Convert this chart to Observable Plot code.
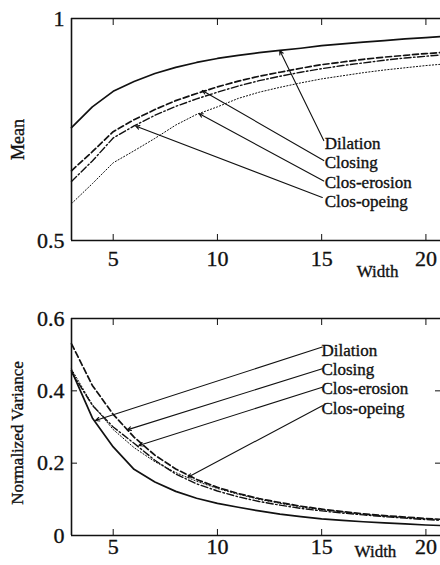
<!DOCTYPE html>
<html>
<head>
<meta charset="utf-8">
<script src="https://cdn.jsdelivr.net/npm/d3@7"></script>
<script src="https://cdn.jsdelivr.net/npm/@observablehq/plot@0.6"></script>
<style>
  body { margin: 0; background: #fff; }
  #chart { width: 440px; height: 565px; overflow: hidden; background: #fff; }
  #chart svg { display: block; }
  #chart text { stroke: #111; stroke-width: 0.35px; }
</style>
</head>
<body>
<div id="chart"></div>
<script>
// ---------- data ----------
const widths = [3, 4, 5, 6, 7, 8, 9, 10, 11, 12, 13, 14, 15, 16, 17, 18, 19, 20, 21];
const seriesNames = ["Dilation", "Closing", "Clos-erosion", "Clos-opeing"];

// Mean (top panel)
const meanDilation   = [0.754, 0.801, 0.836, 0.858, 0.876, 0.890, 0.901, 0.910, 0.917, 0.923, 0.928, 0.933, 0.939, 0.943, 0.947, 0.950, 0.954, 0.957, 0.960];
const meanClosing    = [0.657, 0.700, 0.745, 0.772, 0.795, 0.815, 0.831, 0.846, 0.859, 0.870, 0.879, 0.888, 0.896, 0.902, 0.908, 0.913, 0.917, 0.921, 0.924];
const meanClosErosion= [0.633, 0.679, 0.731, 0.758, 0.782, 0.802, 0.819, 0.834, 0.848, 0.860, 0.870, 0.879, 0.887, 0.894, 0.900, 0.906, 0.911, 0.915, 0.919];
const meanClosOpeing = [0.583, 0.628, 0.675, 0.702, 0.730, 0.760, 0.784, 0.801, 0.820, 0.834, 0.845, 0.855, 0.864, 0.871, 0.878, 0.884, 0.889, 0.894, 0.898];

// Normalized variance (bottom panel)
const varDilation    = [0.456, 0.325, 0.245, 0.183, 0.148, 0.122, 0.103, 0.089, 0.078, 0.068, 0.059, 0.052, 0.046, 0.042, 0.038, 0.035, 0.032, 0.029, 0.027];
const varClosing     = [0.530, 0.415, 0.335, 0.272, 0.222, 0.184, 0.155, 0.133, 0.116, 0.102, 0.091, 0.081, 0.073, 0.066, 0.060, 0.055, 0.051, 0.047, 0.044];
const varClosErosion = [0.452, 0.360, 0.300, 0.255, 0.208, 0.170, 0.143, 0.123, 0.107, 0.094, 0.084, 0.075, 0.068, 0.062, 0.057, 0.052, 0.048, 0.044, 0.041];
const varClosOpeing  = [0.460, 0.362, 0.293, 0.243, 0.204, 0.174, 0.150, 0.130, 0.114, 0.100, 0.089, 0.079, 0.071, 0.065, 0.059, 0.054, 0.050, 0.046, 0.043];

// ticks and tick labels
const xTicks = [5, 10, 15, 20];
const xTickLabels = ["5", "10", "15", "20"];
const meanTicks = [0.5, 1];
const meanTickLabels = ["0.5", "1"];
const varTicks = [0, 0.2, 0.4, 0.6];
const varTickLabels = ["0", "0.2", "0.4", "0.6"];

// annotation labels (data coordinates) and arrows: label end -> curve tip
const meanLabelX = [15.1, 15.1, 15.1, 15.1];
const meanLabelY = [0.718, 0.675, 0.630, 0.587];
const meanArrowX1 = [15.10, 15.10, 15.10, 15.03];
const meanArrowY1 = [0.725, 0.680, 0.634, 0.597];
const meanArrowX2 = [12.99, 9.27, 9.11, 6.07];
const meanArrowY2 = [0.928, 0.838, 0.786, 0.758];

const varLabelX = [14.94, 14.94, 14.94, 14.94];
const varLabelY = [0.512, 0.459, 0.407, 0.351];
const varArrowX1 = [15.03, 15.03, 15.03, 15.03];
const varArrowY1 = [0.521, 0.461, 0.410, 0.359];
const varArrowX2 = [4.15, 5.67, 6.23, 8.58];
const varArrowY2 = [0.318, 0.292, 0.249, 0.161];

// ---------- styles ----------
const ink = "#111";
const font = "'Liberation Serif', 'DejaVu Serif', serif";
const lineStyle = {
  "Dilation":     {strokeWidth: 1.7, strokeDasharray: null},
  "Closing":      {strokeWidth: 1.7, strokeDasharray: "6,3"},
  "Clos-erosion": {strokeWidth: 1.4, strokeDasharray: "7,2.5,1.5,2.5"},
  "Clos-opeing":  {strokeWidth: 1.0, strokeDasharray: "1.2,2"}
};

const labeler = (ticks, labels) => (d) => labels[ticks.indexOf(d)];

function seriesMarks(valueSets) {
  return seriesNames.map((name, i) =>
    Plot.line(widths.map((w, j) => ({width: w, value: valueSets[i][j]})), {
      x: "width", y: "value", stroke: ink,
      strokeWidth: lineStyle[name].strokeWidth,
      strokeDasharray: lineStyle[name].strokeDasharray,
      curve: "linear"
    })
  );
}

function annotationMarks(lx, ly, ax1, ay1, ax2, ay2) {
  const labels = seriesNames.map((name, i) => ({name, x: lx[i], y: ly[i]}));
  const arrows = seriesNames.map((name, i) => ({x1: ax1[i], y1: ay1[i], x2: ax2[i], y2: ay2[i]}));
  return [
    Plot.arrow(arrows, {x1: "x1", y1: "y1", x2: "x2", y2: "y2", stroke: ink, strokeWidth: 1.1,
      headLength: 6, headAngle: 50, insetStart: 0, insetEnd: 0}),
    Plot.text(labels, {x: "x", y: "y", text: "name", textAnchor: "start", dx: 1,
      fontSize: 17, fill: ink, fontFamily: font})
  ];
}

// ---------- top panel: Mean ----------
const topPlot = Plot.plot({
  width: 440, height: 290,
  marginLeft: 71, marginRight: 0, marginTop: 18, marginBottom: 50,
  style: {fontFamily: font, fontSize: "22px", color: ink, background: "#fff"},
  x: {domain: [3, 20.7]},
  y: {domain: [0.5, 1]},
  marks: [
    Plot.ruleY(meanTicks, {stroke: ink, strokeWidth: 1.6}),
    Plot.ruleX([widths[0]], {stroke: ink, strokeWidth: 1.6}),
    Plot.axisX(xTicks, {anchor: "bottom", tickSize: -6, tickPadding: 16, fontSize: 22, label: null,
      tickFormat: labeler(xTicks, xTickLabels)}),
    Plot.axisX(xTicks, {anchor: "top", tickSize: -6, tickFormat: () => "", label: null}),
    Plot.axisY(meanTicks, {anchor: "left", tickSize: 0, tickPadding: 7, fontSize: 22, label: null,
      tickFormat: labeler(meanTicks, meanTickLabels)}),
    ...seriesMarks([meanDilation, meanClosing, meanClosErosion, meanClosOpeing]),
    ...annotationMarks(meanLabelX, meanLabelY, meanArrowX1, meanArrowY1, meanArrowX2, meanArrowY2),
    Plot.text(["Mean"], {frameAnchor: "left", textAnchor: "middle", rotate: -90, dx: -53, dy: 10,
      fontSize: 18, fill: ink, fontFamily: font}),
    Plot.text(["Width"], {x: [17.68], frameAnchor: "bottom", dy: 36, fontSize: 17, fill: ink, fontFamily: font})
  ]
});

// ---------- bottom panel: Normalized Variance ----------
const bottomPlot = Plot.plot({
  width: 440, height: 275,
  marginLeft: 71, marginRight: 0, marginTop: 28, marginBottom: 30,
  style: {fontFamily: font, fontSize: "22px", color: ink, background: "#fff"},
  x: {domain: [3, 20.7]},
  y: {domain: [0, 0.6]},
  marks: [
    Plot.ruleY([varTicks[0], varTicks[varTicks.length - 1]], {stroke: ink, strokeWidth: 1.6}),
    Plot.ruleX([widths[0]], {stroke: ink, strokeWidth: 1.6}),
    Plot.axisX(xTicks, {anchor: "bottom", tickSize: -6, tickPadding: 9, fontSize: 22, label: null,
      tickFormat: labeler(xTicks, xTickLabels)}),
    Plot.axisX(xTicks, {anchor: "top", tickSize: -6, tickFormat: () => "", label: null}),
    Plot.axisY(varTicks, {anchor: "left", tickSize: -6, tickPadding: 13, fontSize: 22, label: null,
      tickFormat: labeler(varTicks, varTickLabels)}),
    Plot.axisY(varTicks, {anchor: "right", tickSize: -6, tickFormat: () => "", label: null}),
    ...seriesMarks([varDilation, varClosing, varClosErosion, varClosOpeing]),
    ...annotationMarks(varLabelX, varLabelY, varArrowX1, varArrowY1, varArrowX2, varArrowY2),
    Plot.text(["Normalized Variance"], {frameAnchor: "left", textAnchor: "middle", rotate: -90, dx: -54, dy: 6,
      fontSize: 17, fill: ink, fontFamily: font}),
    Plot.text(["Width"], {x: [17.58], frameAnchor: "bottom", dy: 21, fontSize: 17, fill: ink, fontFamily: font})
  ]
});

const chart = document.getElementById("chart");
chart.appendChild(topPlot);
chart.appendChild(bottomPlot);
</script>
</body>
</html>
